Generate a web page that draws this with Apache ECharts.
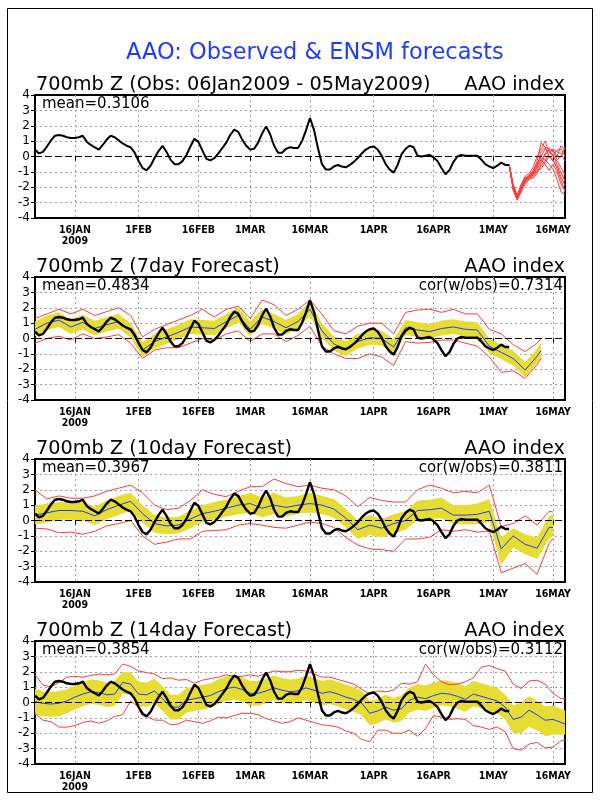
<!DOCTYPE html>
<html><head><meta charset="utf-8">
<script src="https://cdn.jsdelivr.net/npm/echarts@6.0.0/dist/echarts.min.js"></script>
<style>html,body{margin:0;padding:0;background:#fff}#c{width:600px;height:800px}</style>
</head><body><div id="c"></div>
<script>
// ---------- DATA (day-of-year index, 1 Jan = 0) ----------
const X0 = 5, X1 = 138;
const tickDays = [15, 31, 46, 59, 74, 90, 105, 120, 135];
const tickLabels = ['16JAN\n2009', '1FEB', '16FEB', '1MAR', '16MAR', '1APR', '16APR', '1MAY', '16MAY'];
const yTicks = [-4, -3, -2, -1, 0, 1, 2, 3, 4];

const mainTitle = 'AAO: Observed & ENSM forecasts';
const panelTitles = ['700mb Z (Obs: 06Jan2009 - 05May2009)', '700mb Z (7day Forecast)', '700mb Z (10day Forecast)', '700mb Z (14day Forecast)'];
const rightTitle = 'AAO index';
const meanTexts = ['mean=0.3106', 'mean=0.4834', 'mean=0.3967', 'mean=0.3854'];
const corTexts = ['', 'cor(w/obs)=0.7314', 'cor(w/obs)=0.3811', 'cor(w/obs)=0.3112'];

// observed daily AAO, 06Jan (day 5) .. 05May (day 124)
const obsValues = [
  0.45, 0.2, 0.3, 0.65, 1.05, 1.35, 1.4, 1.35, 1.25, 1.2,
  1.2, 1.25, 1.35, 0.95, 0.75, 0.6, 0.45, 0.75, 1.1, 1.35,
  1.25, 1.05, 0.85, 0.7, 0.6, 0.25, -0.3, -0.75, -0.9, -0.6,
  -0.1, 0.35, 0.7, 0.3, -0.2, -0.5, -0.5, -0.3, 0.1, 0.65,
  1.15, 0.95, 0.4, -0.15, -0.25, -0.1, 0.2, 0.55, 0.9, 1.4,
  1.75, 1.6, 1.1, 0.7, 0.45, 0.5, 0.9, 1.5, 1.95, 1.45,
  0.7, 0.25, 0.25, 0.5, 0.6, 0.55, 0.55, 1.0, 1.7, 2.5,
  1.75, 0.55, -0.5, -0.85, -0.85, -0.65, -0.55, -0.65, -0.7, -0.55,
  -0.35, -0.1, 0.2, 0.45, 0.6, 0.65, 0.45, 0.05, -0.5, -0.85,
  -1.05, -0.55, 0.15, 0.5, 0.7, 0.6, 0.05, 0.0, 0.05, 0.1,
  -0.05, -0.3, -0.75, -1.15, -0.9, -0.35, 0.0, 0.1, 0.05, 0.05,
  0.05, 0.05, -0.2, -0.5, -0.65, -0.75, -0.6, -0.4, -0.55, -0.55
];

// ensemble members from 05May (day 124) to 19May (day 138)
const memberDays = [124, 125, 126, 127, 128, 129, 130, 131, 132, 133, 134, 135, 136, 137, 138];
const member1 = [-0.55, -2.0, -2.7, -2.0, -1.5, -1.3, -1.0, -0.5, 0.0, 0.5, 0.3, 0.1, -0.5, -1.0, -1.6];
const member2 = [-0.55, -2.1, -2.85, -2.2, -1.6, -1.4, -1.2, -0.8, -0.3, 0.2, 0.5, 0.4, 0.0, 0.7, 0.4];
const member3 = [-0.55, -1.9, -2.6, -1.9, -1.4, -1.3, -1.1, -0.3, 0.9, 0.6, 0.0, -0.2, -0.8, -1.5, -2.3];
const member4 = [-0.55, -2.2, -2.8, -2.3, -1.8, -1.5, -1.3, -1.0, -0.6, -0.3, 0.2, 0.5, 0.3, 0.2, -0.3];
const member5 = [-0.55, -2.0, -2.75, -2.1, -1.6, -1.2, -0.9, -0.4, -0.1, -0.2, -0.5, -0.8, -1.5, -2.3, -2.5];
const member6 = [-0.55, -1.8, -2.5, -1.8, -1.3, -1.1, -0.7, 0.0, 0.5, 1.0, 0.3, 0.1, 0.4, 0.5, 0.0];
const member7 = [-0.55, -2.1, -2.7, -2.0, -1.5, -1.4, -1.4, -1.1, -0.5, 0.1, 0.4, 0.0, -0.3, -0.7, -1.2];
const member8 = [-0.55, -2.0, -2.6, -2.1, -1.7, -1.5, -1.2, -0.6, -0.2, -0.5, -0.9, -0.5, -1.0, -1.8, -2.2];
const member9 = [-0.55, -1.9, -2.65, -2.0, -1.4, -1.25, -1.0, -0.7, 0.3, 0.6, 0.5, 0.3, -0.2, 0.0, 0.6];
const member10 = [-0.55, -2.15, -2.8, -2.2, -1.6, -1.35, -1.15, -0.9, -0.8, -0.4, 0.0, -0.3, -0.6, -1.3, -1.9];
const members = [member1, member2, member3, member4, member5, member6, member7, member8, member9, member10];

// 7-day forecast
const days7 = [5, 8, 11, 14, 17, 20, 23, 26, 29, 32, 35, 38, 41, 44, 47, 50, 53, 56, 59, 62, 65, 68, 71, 74, 77, 80, 83, 86, 89, 92, 95, 98, 101, 104, 107, 110, 113, 116, 119, 122, 125, 128, 131, 132];
const mean7 = [0.6, 1.0, 1.2, 0.75, 1.05, 0.65, 0.9, 1.1, 0.5, -0.75, -0.2, 0.1, 0.4, 0.75, 0.7, 0.65, 1.1, 1.5, 0.6, 1.4, 1.1, 0.7, 1.1, 1.9, 0.5, -0.35, -0.7, -0.2, 0.05, 0.0, -0.55, 0.7, 0.55, 0.45, 0.65, 0.75, 0.6, 0.55, -0.5, -0.9, -1.3, -2.05, -1.15, -0.8];
const sdHi7 = [1.1, 1.5, 1.7, 1.25, 1.55, 1.15, 1.4, 1.6, 1.0, -0.25, 0.3, 0.6, 0.9, 1.25, 1.2, 1.15, 1.6, 2.0, 1.1, 1.9, 1.6, 1.2, 1.6, 2.4, 1.0, 0.15, -0.2, 0.3, 0.55, 0.5, -0.05, 1.2, 1.05, 0.95, 1.15, 1.25, 1.1, 1.05, 0.0, -0.4, -0.8, -1.55, -0.65, -0.3];
const sdLo7 = [0.15, 0.55, 0.75, 0.3, 0.6, 0.2, 0.45, 0.65, 0.05, -1.2, -0.65, -0.35, -0.05, 0.3, 0.25, 0.2, 0.65, 1.05, 0.15, 0.95, 0.65, 0.25, 0.65, 1.45, 0.05, -0.8, -1.15, -0.65, -0.4, -0.45, -1.0, 0.25, 0.1, 0.0, 0.2, 0.3, 0.15, 0.1, -0.95, -1.35, -1.75, -2.5, -1.6, -1.25];
const max7 = [1.3, 1.6, 1.9, 1.6, 1.9, 1.5, 1.75, 2.0, 1.5, 0.1, 0.6, 0.9, 1.2, 1.5, 1.9, 1.4, 1.9, 2.1, 1.3, 2.5, 2.2, 1.5, 1.9, 2.5, 1.6, 0.5, 0.3, 0.8, 1.0, 1.0, 0.3, 1.7, 1.85, 1.9, 1.7, 1.9, 1.6, 1.6, 0.6, 0.3, -0.4, -0.85, -0.3, 0.0];
const min7 = [-0.3, 0.0, 0.15, -0.1, 0.3, 0.0, 0.1, 0.25, -0.3, -1.3, -0.75, -0.6, -0.6, -0.3, 0.0, -0.1, 0.3, 0.5, -0.2, 0.3, 0.3, -0.2, 0.2, 0.8, -0.5, -1.0, -1.3, -1.3, -1.0, -1.2, -1.75, -0.2, -0.3, -0.25, -0.1, -0.1, -0.3, -0.5, -1.2, -2.2, -2.1, -2.6, -1.7, -1.3];

// 10-day forecast
const days10 = [5, 8, 11, 14, 17, 20, 23, 26, 29, 32, 35, 38, 41, 44, 47, 50, 53, 56, 59, 62, 65, 68, 71, 74, 77, 80, 83, 86, 89, 92, 95, 98, 101, 104, 107, 110, 113, 116, 119, 122, 125, 128, 131, 134, 135];
const mean10 = [0.35, 0.5, 0.65, 0.65, 0.6, 0.3, 0.7, 1.0, 1.25, 0.45, -0.2, -0.35, -0.3, 0.1, 0.45, 0.6, 0.8, 1.0, 1.1, 0.8, 1.0, 0.85, 1.0, 1.1, 1.0, 0.75, 0.15, -0.6, -0.3, -0.5, -0.2, 0.0, 0.65, 0.7, 0.8, 0.35, 0.35, 0.4, 0.6, -1.85, -1.0, -1.55, -1.8, -0.45, -0.45];
const sdHi10 = [0.95, 1.1, 1.2, 1.2, 1.2, 0.9, 1.3, 1.6, 1.8, 1.0, 0.35, 0.2, 0.25, 0.65, 1.0, 1.2, 1.35, 1.6, 1.8, 1.5, 1.8, 1.5, 1.6, 1.8, 1.6, 1.4, 0.75, 0.0, 0.35, 0.1, 0.4, 0.6, 1.3, 1.35, 1.5, 1.0, 1.0, 1.1, 1.4, -1.1, -0.5, -0.9, -1.1, 0.3, 0.4];
const sdLo10 = [-0.25, -0.15, 0.05, 0.05, 0.0, -0.3, 0.1, 0.35, 0.65, -0.15, -0.8, -0.9, -0.85, -0.5, -0.1, 0.05, 0.25, 0.4, 0.5, 0.2, 0.4, 0.25, 0.45, 0.5, 0.4, 0.2, -0.45, -1.2, -0.95, -1.1, -0.85, -0.6, 0.05, 0.1, 0.15, -0.25, -0.25, -0.25, -0.1, -2.9, -1.75, -2.2, -2.5, -1.2, -1.0];
const max10 = [2.0, 1.4, 1.6, 1.45, 1.45, 1.6, 1.9, 2.1, 2.3, 1.8, 1.0, 0.7, 0.8, 1.3, 2.0, 1.7, 1.55, 1.9, 2.2, 2.2, 2.7, 2.4, 2.2, 2.3, 2.1, 2.0, 1.6, 0.9, 1.5, 1.3, 1.2, 1.2, 2.0, 2.3, 2.1, 1.8, 1.9, 1.8, 2.3, -0.4, -0.2, 0.3, -0.3, 0.6, 0.55];
const min10 = [-0.5, -0.55, -0.8, -0.75, -0.9, -0.7, -0.35, -0.2, 0.0, -1.0, -1.55, -1.4, -1.2, -1.2, -0.7, -0.65, -0.6, -0.3, -0.2, -0.3, -0.45, -0.5, -0.3, -0.1, -0.2, -0.45, -1.1, -1.6, -1.85, -1.9, -2.0, -1.2, -1.2, -1.1, -0.6, -0.7, -0.6, -0.75, -0.7, -3.4, -3.1, -2.8, -3.5, -1.5, -1.15];

// 14-day forecast
const days14 = [5, 7, 9, 11, 13, 15, 17, 19, 21, 23, 25, 27, 29, 31, 33, 35, 37, 39, 41, 43, 45, 47, 49, 51, 53, 55, 57, 59, 61, 63, 65, 67, 69, 71, 73, 75, 77, 79, 81, 83, 85, 87, 89, 91, 93, 95, 97, 99, 101, 103, 105, 107, 109, 111, 113, 115, 117, 119, 121, 123, 125, 127, 129, 131, 133, 135, 137, 138];
const mean14 = [0.05, -0.05, -0.1, -0.05, 0.1, 0.35, 0.55, 0.7, 0.65, 0.5, 0.55, 1.3, 1.2, 0.55, 0.5, 0.75, 0.25, -0.3, -0.3, 0.15, 0.25, 0.35, 0.45, 0.7, 0.9, 1.0, 0.85, 0.6, 0.6, 0.75, 0.95, 0.8, 0.7, 0.75, 0.95, 0.8, 0.6, 0.7, 0.55, 0.35, 0.2, -0.05, -0.7, -0.55, -0.3, -0.5, -0.4, 0.15, 0.35, 0.25, 0.45, 0.6, 0.55, 0.4, 0.2, 0.55, 0.4, 0.25, 0.1, -0.3, -1.1, -0.95, -0.5, -0.8, -1.15, -1.1, -1.3, -1.4];
const sdHi14 = [0.9, 0.75, 0.7, 0.75, 0.85, 1.1, 1.35, 1.5, 1.45, 1.3, 1.4, 2.0, 1.95, 1.35, 1.3, 1.55, 1.05, 0.5, 0.5, 0.95, 1.05, 1.15, 1.25, 1.5, 1.7, 1.8, 1.65, 1.4, 1.4, 1.55, 1.75, 1.6, 1.5, 1.55, 1.75, 1.6, 1.4, 1.5, 1.35, 1.15, 1.0, 0.75, 0.1, 0.25, 0.5, 0.3, 0.45, 1.0, 1.2, 1.1, 1.3, 1.45, 1.4, 1.25, 1.05, 1.4, 1.25, 1.1, 0.95, 0.5, -0.2, 0.0, 0.4, 0.1, -0.25, -0.2, -0.4, -0.5];
const sdLo14 = [-0.8, -0.9, -0.95, -0.9, -0.7, -0.45, -0.25, -0.1, -0.15, -0.3, -0.25, 0.55, 0.45, -0.25, -0.3, -0.05, -0.55, -1.1, -1.1, -0.65, -0.55, -0.45, -0.35, -0.1, 0.1, 0.2, 0.05, -0.2, -0.2, -0.05, 0.15, 0.0, -0.1, -0.05, 0.15, 0.0, -0.2, -0.1, -0.25, -0.45, -0.6, -0.85, -1.5, -1.35, -1.1, -1.3, -1.2, -0.65, -0.45, -0.55, -0.35, -0.2, -0.25, -0.4, -0.6, -0.25, -0.4, -0.55, -0.7, -1.1, -2.0, -2.0, -1.6, -1.8, -2.2, -2.1, -2.1, -2.1];
const max14 = [1.8, 1.15, 1.0, 1.3, 1.65, 1.7, 1.65, 1.75, 1.85, 1.8, 1.85, 2.5, 2.35, 2.05, 1.95, 1.85, 1.55, 1.6, 1.45, 1.5, 1.25, 1.45, 1.55, 1.65, 1.8, 1.7, 1.7, 1.8, 1.7, 1.9, 2.05, 2.0, 2.0, 2.1, 2.05, 1.85, 1.65, 1.65, 1.5, 1.35, 1.2, 0.85, 0.55, 0.75, 0.7, 0.8, 1.25, 1.2, 1.35, 2.5, 1.8, 1.35, 1.15, 1.2, 1.35, 1.6, 2.3, 2.4, 2.2, 2.05, 1.2, 0.9, 1.4, 1.45, 1.2, 0.6, 0.25, 0.25];
const min14 = [-0.7, -1.15, -1.25, -1.6, -1.6, -1.5, -1.3, -1.2, -1.35, -1.2, -0.9, -0.8, 0.1, -0.3, -0.9, -1.15, -1.15, -1.45, -1.4, -1.15, -1.25, -1.35, -1.2, -0.95, -1.0, -0.85, -0.7, -0.7, -0.8, -1.05, -1.2, -1.35, -1.25, -1.0, -1.15, -1.3, -1.45, -1.5, -1.6, -1.85, -2.0, -2.4, -2.55, -1.8, -1.8, -2.0, -2.0, -1.8, -2.2, -1.7, -0.85, -0.95, -1.1, -1.05, -1.1, -1.5, -1.6, -1.75, -1.6, -1.9, -3.0, -3.1, -2.7, -2.6, -2.95, -2.9, -2.5, -2.45];

// ---------- STYLE ----------
const RED = '#fa3c3c', BLUE = '#1e3cff', YEL = '#e6dc32', GRAY = '#a0a0a0';
const F = "'DejaVu Sans', sans-serif";
const FX = "'DejaVu Sans Condensed','Liberation Sans Narrow','DejaVu Sans',sans-serif";
const gridTops = [95, 277, 459, 641];
const GH = 123, GL = 35, GW = 530;

// ---------- BUILD ----------
const cats = [];
for (let d = X0; d <= X1; d++) cats.push('d' + d);
const isTick = (idx) => tickDays.indexOf(idx + X0) >= 0;
const fmtX = (v) => { const k = tickDays.indexOf(Number(String(v).slice(1))); return k >= 0 ? tickLabels[k] : ''; };
const pairs = (days, vals) => days.map((d, k) => [d - X0, vals[k]]);

const grid = [], xAxis = [], yAxis = [], series = [], title = [];
title.push({ text: mainTitle, left: 126, top: 42, padding: 0, textStyle: { color: BLUE, fontSize: 22.5, fontWeight: 'normal', fontFamily: F } });

gridTops.forEach((top, i) => {
  grid.push({ left: GL, top: top, width: GW, height: GH, show: true, borderColor: '#000', borderWidth: 2, backgroundColor: 'transparent', containLabel: false });
  xAxis.push({
    gridIndex: i, type: 'category', data: cats, boundaryGap: false,
    axisLine: { show: false },
    axisTick: { show: true, interval: isTick, length: 4, lineStyle: { color: '#000', width: 1 } },
    axisLabel: { interval: isTick, formatter: fmtX, fontSize: 10.5, fontWeight: 'bold', color: '#000', margin: 7, lineHeight: 11, fontFamily: FX },
    splitLine: { show: true, interval: isTick, lineStyle: { color: GRAY, type: [2, 3], width: 1 } }
  });
  yAxis.push({
    gridIndex: i, type: 'value', min: yTicks[0], max: yTicks[yTicks.length - 1], interval: 1,
    axisLine: { show: false },
    axisTick: { show: true, length: 4, lineStyle: { color: '#000' } },
    axisLabel: { fontSize: 12, color: '#000', margin: 5, fontFamily: F },
    splitLine: { show: true, showMinLine: false, showMaxLine: false, lineStyle: { color: GRAY, type: [2, 3], width: 1 } }
  });
  title.push({ text: panelTitles[i], left: 36, top: top - 20, padding: 0, textStyle: { fontSize: 19.3, fontWeight: 'normal', color: '#000', fontFamily: F } });
  title.push({ text: rightTitle, right: 35, top: top - 20, padding: 0, textStyle: { fontSize: 19.3, fontWeight: 'normal', color: '#000', fontFamily: F } });
  title.push({ text: meanTexts[i], left: 42, top: top + 2, padding: 0, textStyle: { fontSize: 15, fontWeight: 'normal', color: '#000', fontFamily: F } });
  if (corTexts[i]) title.push({ text: corTexts[i], right: 37, top: top + 2, padding: 0, textStyle: { fontSize: 15, fontWeight: 'normal', color: '#000', fontFamily: F } });
});

function addForecast(i, days, lo, hi, mn, mx, mean) {
  series.push({ type: 'line', xAxisIndex: i, yAxisIndex: i, data: pairs(days, lo), stack: 'band' + i, stackStrategy: 'all', symbol: 'none', lineStyle: { opacity: 0 }, silent: true, z: 1 });
  series.push({ type: 'line', xAxisIndex: i, yAxisIndex: i, data: days.map((d, k) => [d - X0, hi[k] - lo[k]]), stack: 'band' + i, stackStrategy: 'all', symbol: 'none', lineStyle: { opacity: 0 }, areaStyle: { color: YEL, opacity: 1 }, silent: true, z: 1 });
  [mn, mx].forEach(arr => series.push({ type: 'line', xAxisIndex: i, yAxisIndex: i, data: pairs(days, arr), symbol: 'none', lineStyle: { color: RED, width: 1 }, silent: true, z: 3 }));
  series.push({ type: 'line', xAxisIndex: i, yAxisIndex: i, data: pairs(days, mean), symbol: 'none', lineStyle: { color: BLUE, width: 1 }, silent: true, z: 4 });
}
addForecast(1, days7, sdLo7, sdHi7, min7, max7, mean7);
addForecast(2, days10, sdLo10, sdHi10, min10, max10, mean10);
addForecast(3, days14, sdLo14, sdHi14, min14, max14, mean14);

members.forEach(m => series.push({ type: 'line', xAxisIndex: 0, yAxisIndex: 0, data: pairs(memberDays, m), symbol: 'none', lineStyle: { color: RED, width: 1 }, silent: true, z: 3 }));

const obsData = obsValues.map((v, k) => [k, v]);
for (let i = 0; i < 4; i++) {
  series.push({
    type: 'line', xAxisIndex: i, yAxisIndex: i, data: obsData, symbol: 'none', smooth: false,
    lineStyle: { color: '#000', width: i === 0 ? 2 : 2.4 }, silent: true, z: 6,
    markLine: { silent: true, symbol: 'none', label: { show: false }, animation: false, lineStyle: { color: '#000', type: [7, 3], width: 1.2 }, data: [{ yAxis: 0 }] }
  });
}

const chart = echarts.init(document.getElementById('c'), null, { renderer: 'canvas' });
chart.setOption({
  animation: false,
  backgroundColor: '#fff',
  title: title, grid: grid, xAxis: xAxis, yAxis: yAxis, series: series,
  graphic: [{ type: 'rect', shape: { x: 7.5, y: 8.5, width: 585, height: 784 }, style: { fill: 'none', stroke: '#000', lineWidth: 1 }, silent: true }]
});
</script></body></html>
